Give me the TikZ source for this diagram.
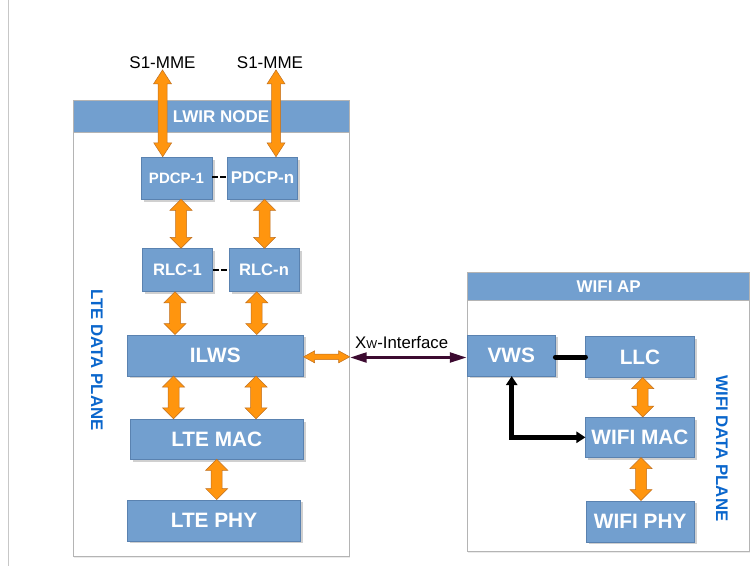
\documentclass[tikz,border=0pt]{standalone}
\usepackage{fontspec}
\setmainfont{Liberation Sans}
\usetikzlibrary{arrows.meta,shadows}

\definecolor{boxblue}{HTML}{729FCF}
\definecolor{boxline}{HTML}{5A82B0}
\definecolor{frameline}{HTML}{B4B4B4}
\definecolor{orfill}{HTML}{FF950E}
\definecolor{oredge}{HTML}{C07020}
\definecolor{planeblue}{HTML}{0A66CC}
\definecolor{xwcol}{HTML}{3C0A30}

\tikzset{
  blk/.style={draw=boxline, line width=0.5pt, fill=boxblue, text=white,
    font=\bfseries\fontsize{20.8}{24}\selectfont, inner sep=0pt,
    drop shadow={shadow xshift=2.5pt, shadow yshift=-2.5pt, fill=black!30, opacity=0.6}},
  frame/.style={draw=frameline, line width=0.8pt, fill=white, inner sep=0pt},
  hdr/.style={draw=frameline, line width=0.8pt, fill=boxblue, inner sep=0pt},
  hdrtxt/.style={text=white, font=\bfseries\fontsize{17}{20}\selectfont, inner sep=0pt},
  plane/.style={text=planeblue, font=\bfseries\fontsize{16.8}{20}\selectfont, rotate=-90, inner sep=0pt},
  fatarrow/.style={draw=oredge, line width=0.5pt, fill=orfill, line join=miter},
  dashlink/.style={draw=black, line width=2.6pt, dash pattern=on 6pt off 2pt},
  blackline/.style={draw=black, line width=5pt},
}

% vertical block arrow with two heads: top point, bottom point, half shaft, half head, head length
\newcommand\vfat[5]{%
  \draw[fatarrow] (#1) -- ([shift={(#4,#5)}]#1) -- ([shift={(#3,#5)}]#1)
    -- ([shift={(#3,-#5)}]#2) -- ([shift={(#4,-#5)}]#2) -- (#2)
    -- ([shift={(-#4,-#5)}]#2) -- ([shift={(-#3,-#5)}]#2)
    -- ([shift={(-#3,#5)}]#1) -- ([shift={(-#4,#5)}]#1) -- cycle;}
% horizontal block arrow with two heads: left point, right point, half shaft, half head, head length
\newcommand\hfat[5]{%
  \draw[fatarrow] (#1) -- ([shift={(#5,-#4)}]#1) -- ([shift={(#5,-#3)}]#1)
    -- ([shift={(-#5,-#3)}]#2) -- ([shift={(-#5,-#4)}]#2) -- (#2)
    -- ([shift={(-#5,#4)}]#2) -- ([shift={(-#5,#3)}]#2)
    -- ([shift={(#5,#3)}]#1) -- ([shift={(#5,#4)}]#1) -- cycle;}

\begin{document}
\begin{tikzpicture}[x=1pt,y=-1pt]
\useasboundingbox (0,0) rectangle (755,566);
\fill[white] (0,0) rectangle (755,566);

% page edge on the left
\draw[draw=black!22, line width=1.4pt] (8.3,0) -- (8.3,566);

% ---------------- LWIR node ----------------
\node[frame, minimum width=276pt, minimum height=456.7pt,
      drop shadow={shadow xshift=1pt, shadow yshift=-1.5pt, fill=black!15}] (lwirbox) at (211.3,328.35) {};
\node[hdr, minimum width=276pt, minimum height=32.3pt] (lwirhdr) at (211.3,116.2) {};
\node[hdrtxt] (lwirlbl) at (221,116.8) {LWIR NODE};

\node[font=\fontsize{17}{20}\selectfont, inner sep=1pt] (s1a) at (162.5,62.7) {S1-MME};
\node[font=\fontsize{17}{20}\selectfont, inner sep=1pt] (s1b) at (270,62.7) {S1-MME};

\node[blk, minimum width=71pt, minimum height=42pt, font=\bfseries\fontsize{15}{18}\selectfont] (pdcp1) at (176.5,178) {PDCP-1};
\node[blk, minimum width=70pt, minimum height=42pt, font=\bfseries\fontsize{17}{20}\selectfont] (pdcpn) at (262.5,178) {PDCP-n};
\node[blk, minimum width=70pt, minimum height=43pt, font=\bfseries\fontsize{16.6}{20}\selectfont] (rlc1) at (177.5,270) {RLC-1};
\node[blk, minimum width=70pt, minimum height=43pt, font=\bfseries\fontsize{16.6}{20}\selectfont] (rlcn) at (264,270) {RLC-n};
\node[blk, minimum width=176pt, minimum height=41pt] (ilws) at (215.3,355.3) {ILWS};
\node[blk, minimum width=173pt, minimum height=40pt] (ltemac) at (216.7,439) {LTE MAC};
\node[blk, minimum width=173pt, minimum height=41pt] (ltephy) at (214,520.3) {LTE PHY};

\node[plane] (lteplane) at (97,360) {LTE DATA PLANE};

% dashed links between parallel entities
\draw[dashlink] (pdcp1.east |- 0,177) -- (pdcpn.west |- 0,177);
\draw[dashlink] (rlc1.east |- 0,270) -- (rlcn.west |- 0,270);

% S1-MME arrows
\coordinate (s1at) at (s1a.south);
\coordinate (s1ab) at (162.7,0 |- pdcp1.north);
\coordinate (s1bt) at (276,0 |- s1b.south);
\coordinate (s1bb) at (276,0 |- pdcpn.north);
\vfat{s1at}{s1ab}{4.5}{9}{14}
\vfat{s1bt}{s1bb}{4.5}{9}{14}

% PDCP -> RLC
\coordinate (p1t) at (181,0 |- pdcp1.south);  \coordinate (p1b) at (181,0 |- rlc1.north);
\coordinate (pnt) at (264.5,0 |- pdcpn.south); \coordinate (pnb) at (264.5,0 |- rlcn.north);
\vfat{p1t}{p1b}{5.5}{11}{11}
\vfat{pnt}{pnb}{5.5}{11}{11}

% RLC -> ILWS
\coordinate (r1t) at (175,0 |- rlc1.south);  \coordinate (r1b) at (175,0 |- ilws.north);
\coordinate (rnt) at (256.7,0 |- rlcn.south); \coordinate (rnb) at (256.7,0 |- ilws.north);
\vfat{r1t}{r1b}{5.5}{11}{11}
\vfat{rnt}{rnb}{5.5}{11}{11}

% ILWS -> LTE MAC
\coordinate (i1t) at (173.5,0 |- ilws.south); \coordinate (i1b) at (173.5,0 |- ltemac.north);
\coordinate (i2t) at (256,0 |- ilws.south);   \coordinate (i2b) at (256,0 |- ltemac.north);
\vfat{i1t}{i1b}{5.5}{11}{11}
\vfat{i2t}{i2b}{5.5}{11}{11}

% LTE MAC -> LTE PHY
\coordinate (mt) at (216.7,0 |- ltemac.south); \coordinate (mb) at (216.7,0 |- ltephy.north);
\vfat{mt}{mb}{5.5}{11}{11}

% ILWS towards the node boundary
\coordinate (il) at (ilws.east |- 0,356.8);
\coordinate (ir) at (lwirbox.east |- 0,356.8);
\hfat{il}{ir}{2.8}{6}{11}

% ---------------- WiFi AP ----------------
\node[frame, minimum width=282pt, minimum height=278.3pt,
      drop shadow={shadow xshift=1pt, shadow yshift=-1.5pt, fill=black!15}] (wifibox) at (608.3,411.85) {};
\node[hdr, minimum width=282pt, minimum height=27.3pt] (wifihdr) at (608.3,286.35) {};
\node[hdrtxt] (wifilbl) at (608.7,286.8) {WIFI AP};

\node[blk, minimum width=88pt, minimum height=41pt] (vws) at (511.2,355.3) {VWS};
\node[blk, minimum width=108.6pt, minimum height=40.6pt] (llc) at (640,357) {LLC};
\node[blk, minimum width=108.6pt, minimum height=40pt] (wmac) at (640,437.3) {WIFI MAC};
\node[blk, minimum width=108.3pt, minimum height=41pt] (wphy) at (640.2,521.3) {WIFI PHY};

\node[plane] (wifiplane) at (722,448.5) {WIFI DATA PLANE};

% VWS to LLC
\draw[blackline, line cap=round] (vws.east |- 0,357) -- (llc.west |- 0,357);
% VWS to WIFI MAC
\coordinate (vwsb) at (511.7,0 |- vws.south);
\draw[blackline, line join=miter,
      {Triangle[width=11pt,length=9pt]}-{Triangle[width=11pt,length=9pt]}]
  (vwsb) -- (vwsb |- wmac.west) -- (wmac.west);

% LLC -> WIFI MAC -> WIFI PHY
\coordinate (lt) at (642.7,0 |- llc.south); \coordinate (lb) at (642.7,0 |- wmac.north);
\vfat{lt}{lb}{5.5}{11}{11}
\coordinate (wt) at (641,0 |- wmac.south); \coordinate (wb) at (641,0 |- wphy.north);
\vfat{wt}{wb}{5.5}{11}{11}

% Xw interface
\draw[draw=xwcol, line width=3.4pt,
      {Triangle[width=9.5pt,length=17pt]}-{Triangle[width=9.5pt,length=17pt]}]
  (lwirbox.east |- 0,357.5) -- (vws.west |- 0,357.5);
\node[font=\fontsize{16.8}{20}\selectfont, inner sep=0pt] (xwlbl) at (401.7,342.8)
  {X{\fontsize{11.5}{13}\selectfont W}-Interface};

\end{tikzpicture}
\end{document}
